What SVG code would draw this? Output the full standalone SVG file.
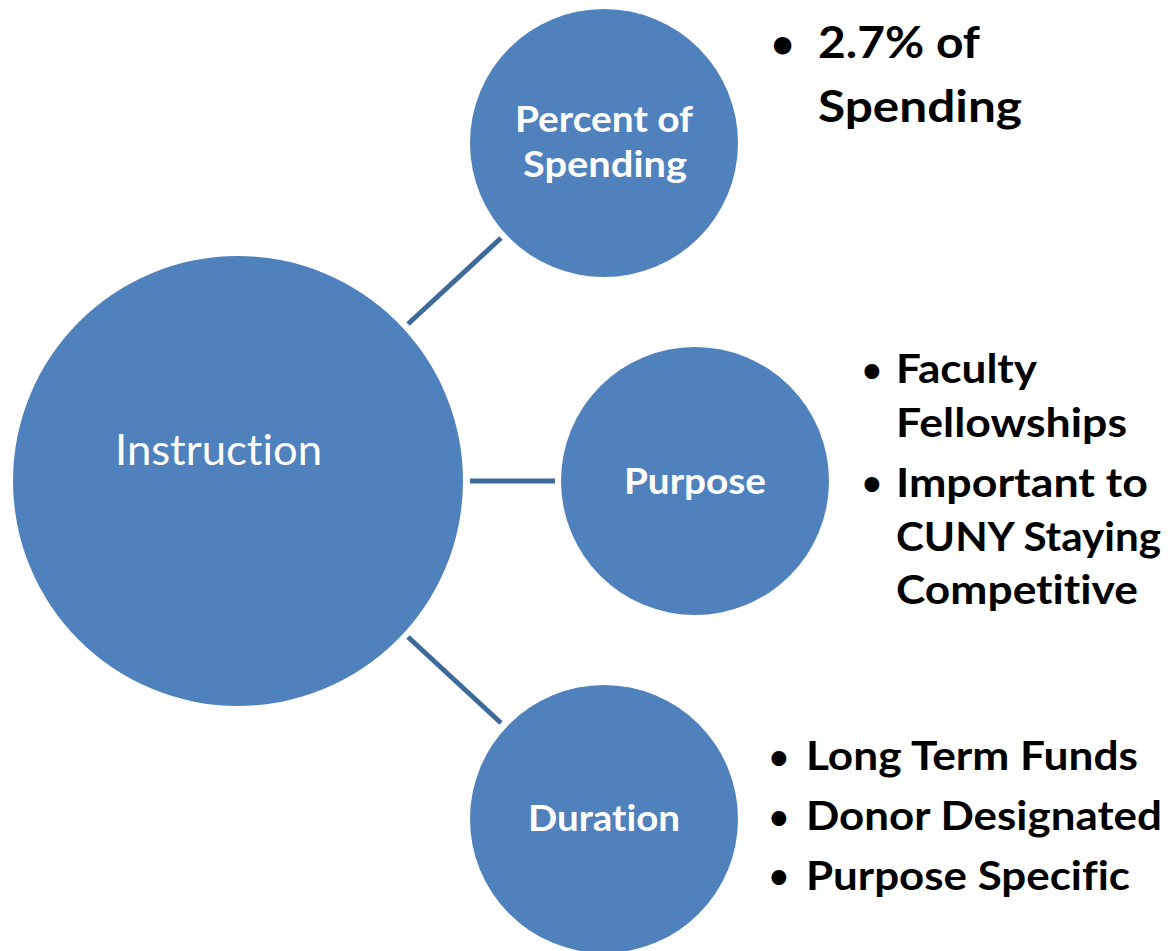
<svg xmlns="http://www.w3.org/2000/svg" width="1168" height="951" viewBox="0 0 1168 951">
<style>
.node{fill:#4F81BD;}
.conn{stroke:#3E6A9B;stroke-width:5;fill:none;}
text{font-variant-ligatures:none;font-family:Lato,"Liberation Sans",sans-serif;}
.big{font-size:42px;fill:#FFFFFF;}
.lbl{font-weight:bold;font-size:36px;fill:#FFFFFF;}
.txt{font-weight:bold;font-size:40px;fill:#000000;}
.top{font-size:44px;}
.bul{font-weight:bold;font-size:34px;fill:#000000;}
.bul.top{font-size:40px;}
</style>
<rect width="1168" height="951" fill="#FFFFFF"/>
<g id="connectors">
<line class="conn" x1="408" y1="324" x2="501" y2="238"/>
<line class="conn" x1="470" y1="481" x2="555" y2="481"/>
<line class="conn" x1="408" y1="637" x2="501" y2="723"/>
</g>
<g id="instruction">
<circle class="node" cx="238" cy="481" r="225"/>
<text class="big" x="115" y="465" textLength="207" lengthAdjust="spacingAndGlyphs">Instruction</text>
</g>
<g id="percent">
<circle class="node" cx="604" cy="143" r="134"/>
<text class="lbl" x="515" y="132" textLength="178" lengthAdjust="spacingAndGlyphs">Percent of</text>
<text class="lbl" x="523" y="177" textLength="164" lengthAdjust="spacingAndGlyphs">Spending</text>
</g>
<g id="purpose">
<circle class="node" cx="695" cy="481" r="134"/>
<text class="lbl" x="624" y="494" textLength="142" lengthAdjust="spacingAndGlyphs">Purpose</text>
</g>
<g id="duration">
<circle class="node" cx="604" cy="819" r="134"/>
<text class="lbl" x="528" y="831" textLength="152" lengthAdjust="spacingAndGlyphs">Duration</text>
</g>
<g id="percent-notes">
<text class="bul top" x="771" y="58">•</text>
<text class="txt top" x="818" y="58" textLength="162" lengthAdjust="spacingAndGlyphs">2.7% of</text>
<text class="txt top" x="818" y="122" textLength="204" lengthAdjust="spacingAndGlyphs">Spending</text>
</g>
<g id="purpose-notes">
<text class="bul" x="862" y="382">•</text>
<text class="txt" x="896" y="383" textLength="141" lengthAdjust="spacingAndGlyphs">Faculty</text>
<text class="txt" x="896" y="437" textLength="231" lengthAdjust="spacingAndGlyphs">Fellowships</text>
<text class="bul" x="862" y="495">•</text>
<text class="txt" x="896" y="497" textLength="252" lengthAdjust="spacingAndGlyphs">Important to</text>
<text class="txt" x="896" y="551" textLength="265" lengthAdjust="spacingAndGlyphs">CUNY Staying</text>
<text class="txt" x="896" y="604" textLength="242" lengthAdjust="spacingAndGlyphs">Competitive</text>
</g>
<g id="duration-notes">
<text class="bul" x="769" y="769">•</text>
<text class="txt" x="806" y="770" textLength="332" lengthAdjust="spacingAndGlyphs">Long Term Funds</text>
<text class="bul" x="769" y="829">•</text>
<text class="txt" x="806" y="830" textLength="356" lengthAdjust="spacingAndGlyphs">Donor Designated</text>
<text class="bul" x="769" y="888">•</text>
<text class="txt" x="806" y="890" textLength="324" lengthAdjust="spacingAndGlyphs">Purpose Specific</text>
</g>
</svg>
